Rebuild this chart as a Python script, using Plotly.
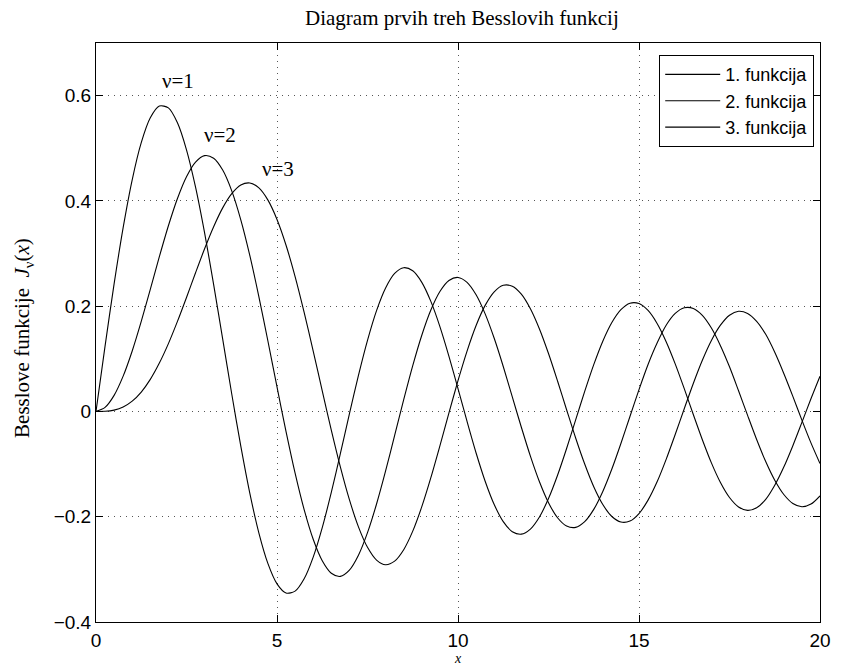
import plotly.graph_objects as go

x_vals = [0, 0.25, 0.5, 0.75, 1, 1.25, 1.5, 1.75, 2, 2.25, 2.5, 2.75, 3, 3.25, 3.5, 3.75,
          4, 4.25, 4.5, 4.75, 5, 5.25, 5.5, 5.75, 6, 6.25, 6.5, 6.75, 7, 7.25, 7.5, 7.75,
          8, 8.25, 8.5, 8.75, 9, 9.25, 9.5, 9.75, 10, 10.25, 10.5, 10.75, 11, 11.25, 11.5, 11.75,
          12, 12.25, 12.5, 12.75, 13, 13.25, 13.5, 13.75, 14, 14.25, 14.5, 14.75, 15, 15.25, 15.5, 15.75,
          16, 16.25, 16.5, 16.75, 17, 17.25, 17.5, 17.75, 18, 18.25, 18.5, 18.75, 19, 19.25, 19.5, 19.75,
          20]

j1_vals = [0, 0.1240, 0.2423, 0.3492, 0.4401, 0.5106, 0.5579, 0.5802, 0.5767, 0.5484,
           0.4971, 0.4260, 0.3391, 0.2411, 0.1374, 0.0332, -0.0660, -0.1556, -0.2311, -0.2892,
           -0.3276, -0.3450, -0.3414, -0.3179, -0.2767, -0.2207, -0.1538, -0.0803, -0.0047, 0.0686,
           0.1352, 0.1916, 0.2346, 0.2622, 0.2731, 0.2672, 0.2453, 0.2091, 0.1613, 0.1048,
           0.0435, -0.0190, -0.0789, -0.1325, -0.1768, -0.2093, -0.2284, -0.2331, -0.2234, -0.2004,
           -0.1655, -0.1212, -0.0703, -0.0161, 0.0380, 0.0889, 0.1334, 0.1689, 0.1934, 0.2057,
           0.2051, 0.1919, 0.1672, 0.1326, 0.0904, 0.0433, -0.0058, -0.0537, -0.0977, -0.1350,
           -0.1635, -0.1814, -0.1880, -0.1829, -0.1671, -0.1403, -0.1057, -0.0650, -0.0208, 0.0240,
           0.0668]

j2_vals = [0, 0.0078, 0.0306, 0.0671, 0.1149, 0.1711, 0.2321, 0.2940, 0.3528, 0.4047,
           0.4461, 0.4739, 0.4861, 0.4811, 0.4586, 0.4191, 0.3641, 0.2960, 0.2178, 0.1334,
           0.0466, -0.0384, -0.1173, -0.1866, -0.2429, -0.2837, -0.3074, -0.3133, -0.3014, -0.2731,
           -0.2303, -0.1758, -0.1130, -0.0456, 0.0223, 0.0870, 0.1448, 0.1926, 0.2279, 0.2488,
           0.2546, 0.2453, 0.2216, 0.1854, 0.1390, 0.0854, 0.0276, -0.0300, -0.0849, -0.1336,
           -0.1734, -0.2019, -0.2177, -0.2202, -0.2094, -0.1861, -0.1520, -0.1094, -0.0609, -0.0095,
           0.0416, 0.0893, 0.1300, 0.1637, 0.1862, 0.1970, 0.1957, 0.1825, 0.1584, 0.1250,
           0.0848, 0.0393, -0.0075, -0.0533, -0.0952, -0.1307, -0.1578, -0.1748, -0.1810, -0.1760,
           -0.1603]

j3_vals = [0, 0.0003, 0.0026, 0.0085, 0.0196, 0.0369, 0.0610, 0.0919, 0.1289, 0.1711,
           0.2166, 0.2634, 0.3091, 0.3510, 0.3868, 0.4138, 0.4302, 0.4341, 0.4247, 0.4015,
           0.3648, 0.3158, 0.2561, 0.1881, 0.1148, 0.0391, -0.0353, -0.1053, -0.1676, -0.2192,
           -0.2581, -0.2823, -0.2911, -0.2843, -0.2626, -0.2274, -0.1809, -0.1258, -0.0653, -0.0028,
           0.0584, 0.1147, 0.1633, 0.2015, 0.2273, 0.2397, 0.2381, 0.2229, 0.1951, 0.1567,
           0.1100, 0.0578, 0.0033, -0.0504, -0.0999, -0.1430, -0.1768, -0.1996, -0.2101, -0.2083,
           -0.1940, -0.1685, -0.1337, -0.0910, -0.0438, 0.0052, 0.0532, 0.0973, 0.1349, 0.1639,
           0.1829, 0.1903, 0.1863, 0.1712, 0.1465, 0.1124, 0.0722, 0.0287, -0.0164, -0.0597,
           -0.0989]

series_names = ["1. funkcija", "2. funkcija", "3. funkcija"]
label_texts = ["ν=1", "ν=2", "ν=3"]
label_x = [2.27, 3.43, 5.04]
label_y = [0.627, 0.525, 0.461]

x_ticks = [0, 5, 10, 15, 20]
y_ticks = [-0.4, -0.2, 0, 0.2, 0.4, 0.6]

title_text = "Diagram prvih treh Besslovih funkcij"
ylabel_text = "Besslove funkcije\u00a0 <i>J</i><sub>ν</sub>(<i>x</i>)"
xlabel_text = "<i>x</i>"

serif = "Liberation Serif, Times New Roman, serif"
sans = "Liberation Sans, Arial, Helvetica, sans-serif"

fig = go.Figure()
for name, ys in zip(series_names, [j1_vals, j2_vals, j3_vals]):
    fig.add_trace(go.Scatter(x=x_vals, y=ys, mode="lines", name=name,
                             line=dict(color="black", width=1.1, shape="spline", smoothing=0.8)))

for t, lx, ly in zip(label_texts, label_x, label_y):
    fig.add_annotation(x=lx, y=ly, xref="x", yref="y", text=t, showarrow=False,
                       font=dict(family=serif, size=21, color="black"),
                       xanchor="center", yanchor="middle")

fig.add_annotation(x=-0.1, y=0.49, xref="paper", yref="paper", text=ylabel_text,
                   showarrow=False, textangle=-90,
                   font=dict(family=serif, size=21, color="black"),
                   xanchor="center", yanchor="middle")
fig.add_annotation(x=0.5, y=-46 / 579, xref="paper", yref="paper", text=xlabel_text,
                   showarrow=False, font=dict(family=serif, size=14, color="black"),
                   xanchor="center", yanchor="bottom")

axis_common = dict(showline=True, linecolor="black", linewidth=1, mirror="allticks",
                   ticks="inside", ticklen=7, tickcolor="black", tickwidth=1,
                   showgrid=True, gridcolor="#555555", griddash="1px,5px", gridwidth=1,
                   zeroline=False, tickfont=dict(family=sans, size=19, color="black"))

fig.update_xaxes(range=[0, 20], tickvals=x_ticks, ticklabelstandoff=1, **axis_common)
fig.update_yaxes(range=[-0.4, 0.7], tickvals=y_ticks, **axis_common)

fig.update_layout(
    width=842, height=668,
    margin=dict(l=95.5, r=11, t=43, b=46),
    paper_bgcolor="white", plot_bgcolor="white",
    title=dict(text=title_text, x=0.5054, xref="paper", xanchor="center",
               y=1 - 18 / 668, yanchor="middle",
               font=dict(family=serif, size=21, color="black")),
    showlegend=True,
    legend=dict(x=0.992, y=0.979, xanchor="right", yanchor="top",
                bordercolor="black", borderwidth=1, bgcolor="white",
                tracegroupgap=0, itemwidth=55,
                font=dict(family=sans, size=18, color="black")),
)

fig.write_html("out.html")
